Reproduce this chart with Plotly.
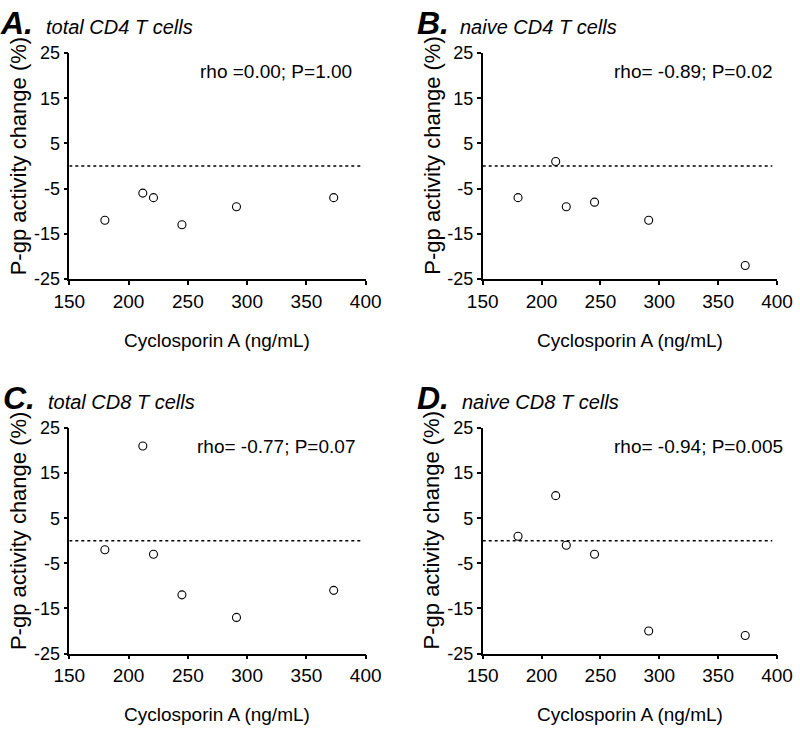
import plotly.graph_objects as go

# ---- data ----
csa = [180, 212, 221, 245, 291, 373]          # Cyclosporin A (ng/mL)
total_cd4 = [-12, -6, -7, -13, -9, -7]
naive_cd4 = [-7, 1, -9, -8, -12, -22]
total_cd8 = [-2, 21, -3, -12, -17, -11]
naive_cd8 = [1, 10, -1, -3, -20, -21]

panel_letters = ["A.", "B.", "C.", "D."]
panel_titles = ["total CD4 T cells", "naive CD4 T cells", "total CD8 T cells", "naive CD8 T cells"]
stats = ["rho =0.00; P=1.00", "rho= -0.89; P=0.02", "rho= -0.77; P=0.07", "rho= -0.94; P=0.005"]
series = [total_cd4, naive_cd4, total_cd8, naive_cd8]

x_ticks = [150, 200, 250, 300, 350, 400]
x_tick_text = ["150", "200", "250", "300", "350", "400"]
y_ticks = [-25, -15, -5, 5, 15, 25]
y_tick_text = ["-25", "-15", "-5", "5", "15", "25"]
ref_line_x = [150, 396]
ref_line_y = 0

W, H = 800, 732
FONT = "Liberation Sans, Arial, Helvetica, sans-serif"

# pixel layout of each panel: (left, right, top, bottom)
boxes = [(69.3, 365.7, 53, 279), (482.7, 777, 53, 279),
         (69.3, 365.7, 428, 653.5), (482.7, 777, 428, 653.5)]

fig = go.Figure()
annotations = []
shapes = []

for i, (vals, box) in enumerate(zip(series, boxes)):
    l, r, t, b = box
    n = "" if i == 0 else str(i + 1)
    xa, ya = "x" + n, "y" + n
    fig.add_trace(go.Scatter(
        x=csa, y=vals, xaxis=xa, yaxis=ya, mode="markers",
        marker=dict(symbol="circle-open", size=8, color="black", line=dict(width=1.1, color="black")),
        showlegend=False, hoverinfo="skip", cliponaxis=False))
    axis_common = dict(showline=True, linecolor="black", linewidth=1.5, ticks="outside",
                       ticklen=4, tickwidth=1.5, tickcolor="black", showgrid=False,
                       zeroline=False, mirror=False, automargin=False, tickmode="array")
    fig.update_layout(**{
        ("xaxis" + n): dict(domain=[l / W, r / W], anchor=ya, range=[150, 400],
                            tickvals=x_ticks, ticktext=x_tick_text,
                            tickfont=dict(family=FONT, size=19, color="black"), **axis_common),
        ("yaxis" + n): dict(domain=[1 - b / H, 1 - t / H], anchor=xa, range=[-25, 25],
                            tickvals=y_ticks, ticktext=y_tick_text, ticklabelstandoff=0,
                            tickfont=dict(family=FONT, size=18, color="black"), **axis_common),
    })
    shapes.append(dict(type="line", xref=xa, yref=ya, x0=ref_line_x[0], x1=ref_line_x[1],
                       y0=ref_line_y, y1=ref_line_y, line=dict(color="black", width=1.5, dash="3px,3px")))
    # panel letter and title
    letter_x = [-2, 415, 1, 415][i]
    title_x = [44, 458, 46, 460][i]
    base_y = t - 22
    annotations.append(dict(xref="paper", yref="paper", x=letter_x / W, y=1 - (base_y + 12) / H,
                            text="<b><i>%s</i></b>" % panel_letters[i], showarrow=False,
                            xanchor="left", yanchor="bottom",
                            font=dict(family=FONT, size=32, color="black")))
    annotations.append(dict(xref="paper", yref="paper", x=title_x / W, y=1 - (base_y + 9) / H,
                            text="<i>%s</i>" % panel_titles[i], showarrow=False,
                            xanchor="left", yanchor="bottom",
                            font=dict(family=FONT, size=20, color="black")))
    # statistics
    stat_right = [354, 774, 357, 785][i]
    annotations.append(dict(xref="paper", yref="paper", x=stat_right / W, y=1 - (t + 18) / H,
                            text=stats[i], showarrow=False, xanchor="right", yanchor="middle",
                            font=dict(family=FONT, size=19, color="black")))
    # axis titles
    annotations.append(dict(xref="paper", yref="paper", x=(l - 51) / W, y=1 - (t + b - 20) / 2 / H,
                            text="P-gp activity change (%)", showarrow=False, textangle=-90,
                            xanchor="center", yanchor="middle",
                            font=dict(family=FONT, size=22, color="black")))
    annotations.append(dict(xref="paper", yref="paper", x=(l + r) / 2 / W, y=1 - (b + 61) / H,
                            text="Cyclosporin A (ng/mL)", showarrow=False,
                            xanchor="center", yanchor="middle",
                            font=dict(family=FONT, size=19, color="black")))

fig.update_layout(width=W, height=H, autosize=False, margin=dict(l=0, r=0, t=0, b=0),
                  paper_bgcolor="white", plot_bgcolor="white",
                  annotations=annotations, shapes=shapes,
                  font=dict(family=FONT, color="black"))

fig.write_html("out.html", config={"displayModeBar": False},
               post_script="document.body.style.margin='0';document.body.style.overflow='hidden';")
